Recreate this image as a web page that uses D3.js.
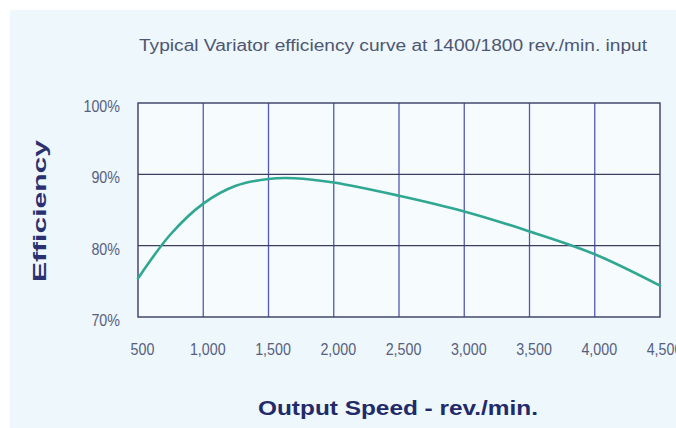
<!DOCTYPE html>
<html>
<head>
<meta charset="utf-8">
<script src="https://cdn.jsdelivr.net/npm/d3@7"></script>
<style>
  html, body { margin: 0; padding: 0; background: #ffffff; }
  svg { display: block; }
</style>
</head>
<body>
<svg id="chart" width="676" height="428"></svg>
<script>
// Output speed (rev./min.) and variator efficiency (%)
const speeds     = [500, 750, 1000, 1250, 1500, 1700, 2000, 2500, 3000, 3500, 4000, 4500];
const efficiency = [75.4, 81.6, 85.9, 88.4, 89.35, 89.45, 88.85, 87.0, 84.8, 82.0, 78.8, 74.4];

const xTicks = [500, 1000, 1500, 2000, 2500, 3000, 3500, 4000, 4500];
const yTicks = [70, 80, 90, 100];

const title  = "Typical Variator efficiency curve at 1400/1800 rev./min. input";
const xTitle = "Output Speed - rev./min.";
const yTitle = "Efficiency";

const svg = d3.select("#chart");
const W = 676, H = 428;

// pale blue panel
svg.append("rect").attr("x", 10).attr("y", 10).attr("width", W - 10).attr("height", H - 10)
  .attr("fill", "#eef7fb");

const plot = { left: 138, right: 660, top: 103, bottom: 317 };

const x = d3.scaleLinear().domain([500, 4500]).range([plot.left, plot.right]);
const y = d3.scaleLinear().domain([70, 100]).range([plot.bottom, plot.top]);

const sans = "'Liberation Sans', Arial, sans-serif";

// plot background
svg.append("rect")
  .attr("x", plot.left).attr("y", plot.top)
  .attr("width", plot.right - plot.left).attr("height", plot.bottom - plot.top)
  .attr("fill", "#f6fbfd");

// vertical grid lines
svg.append("g")
  .selectAll("line")
  .data(xTicks.slice(1, -1))
  .join("line")
  .attr("x1", d => x(d)).attr("x2", d => x(d))
  .attr("y1", plot.top).attr("y2", plot.bottom)
  .attr("stroke", "#5358b4").attr("stroke-width", 1.3);

// horizontal grid lines
svg.append("g")
  .selectAll("line")
  .data(yTicks.slice(1, -1))
  .join("line")
  .attr("x1", plot.left).attr("x2", plot.right)
  .attr("y1", d => y(d)).attr("y2", d => y(d))
  .attr("stroke", "#3c3f62").attr("stroke-width", 1.4);

// frame
svg.append("rect")
  .attr("x", plot.left).attr("y", plot.top)
  .attr("width", plot.right - plot.left).attr("height", plot.bottom - plot.top)
  .attr("fill", "none").attr("stroke", "#3a3d63").attr("stroke-width", 1.4);

// efficiency curve
const line = d3.line()
  .x((d, i) => x(speeds[i]))
  .y(d => y(d))
  .curve(d3.curveCatmullRom.alpha(0.5));

svg.append("path")
  .datum(efficiency)
  .attr("d", line)
  .attr("fill", "none")
  .attr("stroke", "#2fa792")
  .attr("stroke-width", 2.6)
  .attr("stroke-linecap", "round");

// x axis tick labels (condensed)
const xAxis = d3.axisBottom(x).tickValues(xTicks).tickFormat(d3.format(",")).tickSize(0).tickPadding(0);
const gx = svg.append("g").attr("transform", `translate(4, ${plot.bottom + 26})`).call(xAxis);
gx.select(".domain").remove();
gx.selectAll("text")
  .attr("fill", "#56607e")
  .attr("font-family", sans)
  .attr("font-size", 17)
  .attr("transform", "scale(0.84,1)");

// y axis tick labels (condensed)
const yAxis = d3.axisLeft(y).tickValues(yTicks).tickFormat(d => d + "%").tickSize(0).tickPadding(0);
const gy = svg.append("g").attr("transform", `translate(${plot.left - 18}, 3)`).call(yAxis);
gy.select(".domain").remove();
gy.selectAll("text")
  .attr("fill", "#56607e")
  .attr("font-family", sans)
  .attr("font-size", 17)
  .attr("transform", "scale(0.84,1)");

// title
svg.append("text")
  .attr("x", 393).attr("y", 51)
  .attr("text-anchor", "middle")
  .attr("font-family", sans)
  .attr("font-size", 16)
  .attr("fill", "#4d5672")
  .attr("textLength", 508)
  .attr("lengthAdjust", "spacingAndGlyphs")
  .text(title);

// x axis title
svg.append("text")
  .attr("x", 398).attr("y", 415)
  .attr("text-anchor", "middle")
  .attr("font-family", sans)
  .attr("font-weight", "bold")
  .attr("font-size", 20)
  .attr("fill", "#222a6a")
  .attr("textLength", 280)
  .attr("lengthAdjust", "spacingAndGlyphs")
  .text(xTitle);

// y axis title
svg.append("text")
  .attr("transform", "translate(46, 211) rotate(-90)")
  .attr("text-anchor", "middle")
  .attr("font-family", sans)
  .attr("font-weight", "bold")
  .attr("font-size", 19)
  .attr("fill", "#2a3070")
  .attr("textLength", 142)
  .attr("lengthAdjust", "spacingAndGlyphs")
  .text(yTitle);
</script>
</body>
</html>
